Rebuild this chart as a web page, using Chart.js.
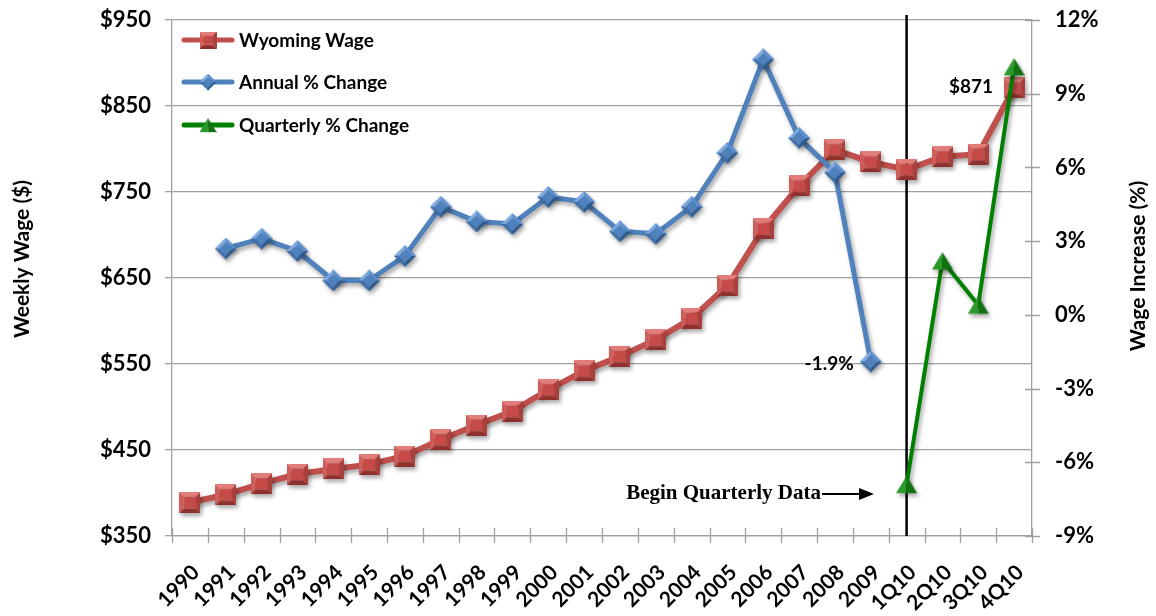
<!DOCTYPE html>
<html>
<head>
	<title>Wyoming Weekly Wage</title>
	<script src="https://cdn.jsdelivr.net/npm/chart.js"></script>
	<style>
		html, body { margin: 0; padding: 0; background: #fff; }
		.chart-container { width: 1156px; height: 616px; }
	</style>
</head>
<body>
	<div class="chart-container">
		<canvas id="wageChart" width="1156" height="616"></canvas>
	</div>
	<script>
		// values
		const categories = ['1990', '1991', '1992', '1993', '1994', '1995', '1996', '1997', '1998', '1999',
			'2000', '2001', '2002', '2003', '2004', '2005', '2006', '2007', '2008', '2009',
			'1Q10', '2Q10', '3Q10', '4Q10'];
		const wyomingWage = [389, 398, 411, 422, 428, 433, 443, 462, 479, 495,
			520, 542, 559, 578, 603, 641, 707, 757, 799, 785,
			776, 791, 794, 871];
		const annualChange = [null, 2.7, 3.1, 2.6, 1.4, 1.4, 2.4, 4.4, 3.8, 3.7,
			4.8, 4.6, 3.4, 3.3, 4.4, 6.6, 10.4, 7.2, 5.8, -1.9,
			null, null, null, null];
		const quarterlyChange = [null, null, null, null, null, null, null, null, null, null,
			null, null, null, null, null, null, null, null, null, null,
			-6.9, 2.2, 0.4, 10.1];
		const wageTicks = [350, 450, 550, 650, 750, 850, 950];
		const pctTicks = [-9, -6, -3, 0, 3, 6, 9, 12];

		const font = 'Lato, "Open Sans", sans-serif';
		const gridGray = '#a0a0a0';

		// bevelled marker images like the Excel ones
		function facet(ctx, pts, color) {
			ctx.beginPath();
			ctx.moveTo(pts[0][0], pts[0][1]);
			for (let i = 1; i < pts.length; i++) ctx.lineTo(pts[i][0], pts[i][1]);
			ctx.closePath();
			ctx.fillStyle = color;
			ctx.fill();
		}
		function squareMarker(s) {
			const c = document.createElement('canvas');
			c.width = s; c.height = s;
			const g = c.getContext('2d');
			const i = s * 0.22;
			facet(g, [[0, 0], [s, 0], [s - i, i], [i, i]], '#e27d7a');
			facet(g, [[0, 0], [i, i], [i, s - i], [0, s]], '#cf5e5a');
			facet(g, [[s, 0], [s, s], [s - i, s - i], [s - i, i]], '#ab3f3c');
			facet(g, [[0, s], [i, s - i], [s - i, s - i], [s, s]], '#8f302d');
			facet(g, [[i, i], [s - i, i], [s - i, s - i], [i, s - i]], '#c64a47');
			return c;
		}
		function diamondMarker(s) {
			const c = document.createElement('canvas');
			c.width = s; c.height = s;
			const g = c.getContext('2d');
			const h = s / 2, i = s * 0.2;
			facet(g, [[h, 0], [s, h], [s - i, h], [h, i]], '#5b8fd0');
			facet(g, [[h, 0], [h, i], [i, h], [0, h]], '#7fa9de');
			facet(g, [[0, h], [i, h], [h, s - i], [h, s]], '#3f6fa8');
			facet(g, [[s, h], [h, s], [h, s - i], [s - i, h]], '#2f5a8e');
			facet(g, [[h, i], [s - i, h], [h, s - i], [i, h]], '#4f81bd');
			return c;
		}
		function triangleMarker(s) {
			const c = document.createElement('canvas');
			c.width = s; c.height = s;
			const g = c.getContext('2d');
			const top = s * 0.08, bot = s * 0.92, h = s / 2;
			facet(g, [[h, top], [h, bot], [0, bot]], '#2a9a2a');
			facet(g, [[h, top], [s, bot], [h, bot]], '#127212');
			return c;
		}
		const squareImg = squareMarker(21);
		const diamondImg = diamondMarker(22);
		const triangleImg = triangleMarker(21);

		const decor = {
			id: 'decor',
			beforeDatasetsDraw(chart) {
				const { ctx, chartArea, scales } = chart;
				const x = scales.x.getPixelForValue(categories.indexOf('1Q10'));
				ctx.save();
				ctx.strokeStyle = '#000';
				ctx.lineWidth = 2.5;
				ctx.beginPath();
				ctx.moveTo(x, chartArea.top - 5);
				ctx.lineTo(x, chartArea.bottom);
				ctx.stroke();
				ctx.restore();
			},
			beforeDatasetDraw(chart) {
				const ctx = chart.ctx;
				ctx.save();
				ctx.shadowColor = 'rgba(0,0,0,0.35)';
				ctx.shadowBlur = 4;
				ctx.shadowOffsetX = 2;
				ctx.shadowOffsetY = 3;
			},
			afterDatasetDraw(chart) {
				chart.ctx.restore();
			},
			afterDraw(chart) {
				const { ctx, chartArea, scales } = chart;
				const xs = scales.x, yr = scales.yPct;
				ctx.save();
				// crossing tick marks on the category axis
				ctx.strokeStyle = gridGray;
				ctx.lineWidth = 1.3;
				const step = xs.getPixelForValue(1) - xs.getPixelForValue(0);
				ctx.beginPath();
				for (let i = 0; i <= categories.length; i++) {
					const x = Math.round(xs.getPixelForValue(i) - step / 2) + 0.5;
					ctx.moveTo(x, chartArea.bottom - 8);
					ctx.lineTo(x, chartArea.bottom + 7);
				}
				// crossing tick marks on the right axis
				pctTicks.forEach(v => {
					const y = Math.round(yr.getPixelForValue(v)) + 0.5;
					ctx.moveTo(chartArea.right - 7, y);
					ctx.lineTo(chartArea.right + 8, y);
				});
				ctx.stroke();

				// axis titles
				ctx.fillStyle = '#000';
				ctx.font = 'bold 21px ' + font;
				ctx.textAlign = 'center';
				ctx.textBaseline = 'middle';
				ctx.save();
				ctx.translate(22, 259);
				ctx.rotate(-Math.PI / 2);
				ctx.fillText('Weekly Wage ($)', 0, 0);
				ctx.restore();
				ctx.save();
				ctx.translate(1138, 266);
				ctx.rotate(-Math.PI / 2);
				ctx.fillText('Wage Increase (%)', 0, 0);
				ctx.restore();

				// legend
				const items = [
					{ text: 'Wyoming Wage', color: '#c0504d', img: squareImg, y: 40 },
					{ text: 'Annual % Change', color: '#4f81bd', img: diamondImg, y: 82 },
					{ text: 'Quarterly % Change', color: '#008000', img: triangleImg, y: 125 }
				];
				items.forEach(it => {
					ctx.strokeStyle = it.color;
					ctx.lineWidth = 5;
					ctx.lineCap = 'round';
					ctx.beginPath();
					ctx.moveTo(184, it.y);
					ctx.lineTo(232, it.y);
					ctx.stroke();
					ctx.drawImage(it.img, 208 - 8.5, it.y - 8.5, 17, 17);
					ctx.fillStyle = '#000';
					ctx.font = 'bold 19px ' + font;
					ctx.textAlign = 'left';
					ctx.textBaseline = 'middle';
					ctx.fillText(it.text, 239, it.y + 1);
				});

				// point labels
				ctx.font = 'bold 19px ' + font;
				ctx.textAlign = 'right';
				const last = categories.length - 1;
				ctx.fillText('$' + wyomingWage[last], xs.getPixelForValue(last) - 21,
					scales.yWage.getPixelForValue(wyomingWage[last]) - 1);
				const i09 = categories.indexOf('2009');
				ctx.fillText(annualChange[i09].toFixed(1) + '%', xs.getPixelForValue(i09) - 17,
					yr.getPixelForValue(annualChange[i09]) + 2);

				// begin quarterly data note
				ctx.font = 'bold 21px "Liberation Serif", "DejaVu Serif", serif';
				ctx.fillText('Begin Quarterly Data', 821, 494);
				ctx.strokeStyle = '#000';
				ctx.lineWidth = 2;
				ctx.lineCap = 'butt';
				ctx.beginPath();
				ctx.moveTo(822, 494);
				ctx.lineTo(862, 494);
				ctx.stroke();
				ctx.beginPath();
				ctx.moveTo(874, 494);
				ctx.lineTo(859, 488);
				ctx.lineTo(859, 500);
				ctx.closePath();
				ctx.fillStyle = '#000';
				ctx.fill();
				ctx.restore();
			}
		};

		function fixVertical(width) {
			return scale => {
				scale.width = width;
				scale.paddingTop = 0;
				scale.paddingBottom = 0;
			};
		}

		const ctx = document.getElementById('wageChart').getContext('2d');
		const wageChart = new Chart(ctx, {
			type: 'line',
			data: {
				labels: categories,
				datasets: [{
					label: 'Wyoming Wage',
					data: wyomingWage,
					yAxisID: 'yWage',
					borderColor: '#c0504d',
					borderWidth: 6,
					pointStyle: squareImg,
					order: 2
				}, {
					label: 'Annual % Change',
					data: annualChange,
					yAxisID: 'yPct',
					borderColor: '#4f81bd',
					borderWidth: 5,
					pointStyle: diamondImg,
					order: 1
				}, {
					label: 'Quarterly % Change',
					data: quarterlyChange,
					yAxisID: 'yPct',
					borderColor: '#008000',
					borderWidth: 4,
					pointStyle: triangleImg,
					order: 0
				}]
			},
			options: {
				responsive: false,
				animation: false,
				events: [],
				clip: false,
				layout: { padding: { top: 20, left: 0, right: 0, bottom: 0 } },
				plugins: {
					legend: { display: false },
					tooltip: { enabled: false }
				},
				scales: {
					x: {
						type: 'category',
						offset: true,
						grid: { display: false },
						border: { display: true, color: gridGray, width: 1.3 },
						ticks: {
							color: '#000',
							font: { family: font, size: 21, weight: 'bold' },
							maxRotation: 45,
							minRotation: 45,
							autoSkip: false,
							padding: 16,
							labelOffset: 6
						},
						afterFit(scale) {
							scale.height = 80;
							scale.paddingLeft = 0;
							scale.paddingRight = 0;
						}
					},
					yWage: {
						type: 'linear',
						position: 'left',
						min: 350,
						max: 950,
						afterBuildTicks(scale) { scale.ticks = wageTicks.map(v => ({ value: v })); },
						grid: { color: gridGray, lineWidth: 1.3, tickLength: 7 },
						border: { display: true, color: gridGray, width: 1.3 },
						ticks: {
							color: '#000',
							font: { family: font, size: 22, weight: 'bold' },
							padding: 14,
							callback: v => '$' + v
						},
						afterFit: fixVertical(172)
					},
					yPct: {
						type: 'linear',
						position: 'right',
						min: -9,
						max: 12,
						afterBuildTicks(scale) { scale.ticks = pctTicks.map(v => ({ value: v })); },
						grid: { display: false },
						border: { display: true, color: gridGray, width: 1.3 },
						ticks: {
							color: '#000',
							font: { family: font, size: 22, weight: 'bold' },
							padding: 15,
							callback: v => v + '%'
						},
						afterFit: fixVertical(124)
					}
				}
			},
			plugins: [decor]
		});
	</script>
</body>
</html>
